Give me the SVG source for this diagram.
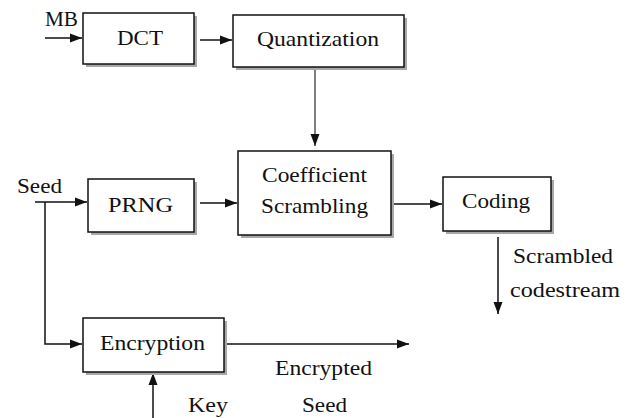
<svg xmlns="http://www.w3.org/2000/svg" width="629" height="418" viewBox="0 0 629 418">
<style>
.box{fill:#fff;stroke:#111;stroke-width:1.5}
.sh{fill:#a8a8a8}
text{font-family:'Liberation Serif','Times New Roman',serif;font-size:21px;fill:#111}
.ln{fill:none;stroke:#111;stroke-width:1.5}
.gl{stroke:#555}
</style>
<defs>
<marker id="ah" viewBox="0 0 12 10" refX="12" refY="5" markerWidth="12" markerHeight="10" markerUnits="userSpaceOnUse" orient="auto">
<path d="M0,0.5 L12,5 L0,9.5 Z" fill="#111"/>
</marker>
</defs>
<rect width="629" height="418" fill="#fff"/>
<g id="connectors">
<path class="ln" d="M45,38 H82" marker-end="url(#ah)"/>
<path class="ln" d="M200,40 H232" marker-end="url(#ah)"/>
<path class="ln gl" d="M315,67 V146" marker-end="url(#ah)"/>
<path class="ln" d="M35,202 H87" marker-end="url(#ah)"/>
<path class="ln" d="M200,203 H237" marker-end="url(#ah)"/>
<path class="ln" d="M391,204 H442" marker-end="url(#ah)"/>
<path class="ln" d="M498,237 V314" marker-end="url(#ah)"/>
<path class="ln" d="M45,202 V344 H82" marker-end="url(#ah)"/>
<path class="ln" d="M224,344 H409" marker-end="url(#ah)"/>
<path class="ln" d="M153,418 V373" marker-end="url(#ah)"/>
</g>
<g id="labels">
<text x="45" y="26" textLength="33" lengthAdjust="spacingAndGlyphs">MB</text>
<text x="17" y="193" textLength="45" lengthAdjust="spacingAndGlyphs">Seed</text>
<text x="513" y="263" textLength="100" lengthAdjust="spacingAndGlyphs">Scrambled</text>
<text x="510" y="297" textLength="110" lengthAdjust="spacingAndGlyphs">codestream</text>
<text x="275" y="375" textLength="97" lengthAdjust="spacingAndGlyphs">Encrypted</text>
<text x="302" y="412" textLength="45" lengthAdjust="spacingAndGlyphs">Seed</text>
<text x="188" y="412" textLength="40" lengthAdjust="spacingAndGlyphs">Key</text>
</g>
<g id="dct">
<rect class="sh" x="86" y="16" width="111" height="51"/>
<rect class="box" x="83" y="13" width="111" height="51"/>
<text x="117" y="45" textLength="46" lengthAdjust="spacingAndGlyphs">DCT</text>
</g>
<g id="quantization">
<rect class="sh" x="236" y="18" width="171" height="52"/>
<rect class="box" x="233" y="15" width="171" height="52"/>
<text x="257" y="46" textLength="122" lengthAdjust="spacingAndGlyphs">Quantization</text>
</g>
<g id="prng">
<rect class="sh" x="91" y="182" width="106" height="53"/>
<rect class="box" x="88" y="179" width="106" height="53"/>
<text x="108" y="212" textLength="65" lengthAdjust="spacingAndGlyphs">PRNG</text>
</g>
<g id="scrambling">
<rect class="sh" x="241" y="154" width="153" height="84"/>
<rect class="box" x="238" y="151" width="153" height="84"/>
<text x="262" y="182" textLength="105" lengthAdjust="spacingAndGlyphs">Coefficient</text>
<text x="261" y="213" textLength="107" lengthAdjust="spacingAndGlyphs">Scrambling</text>
</g>
<g id="coding">
<rect class="sh" x="446" y="180" width="108" height="54"/>
<rect class="box" x="443" y="177" width="108" height="54"/>
<text x="462" y="208" textLength="68" lengthAdjust="spacingAndGlyphs">Coding</text>
</g>
<g id="encryption">
<rect class="sh" x="86" y="321" width="141" height="54"/>
<rect class="box" x="83" y="318" width="141" height="54"/>
<text x="100" y="350" textLength="105" lengthAdjust="spacingAndGlyphs">Encryption</text>
</g>
</svg>
